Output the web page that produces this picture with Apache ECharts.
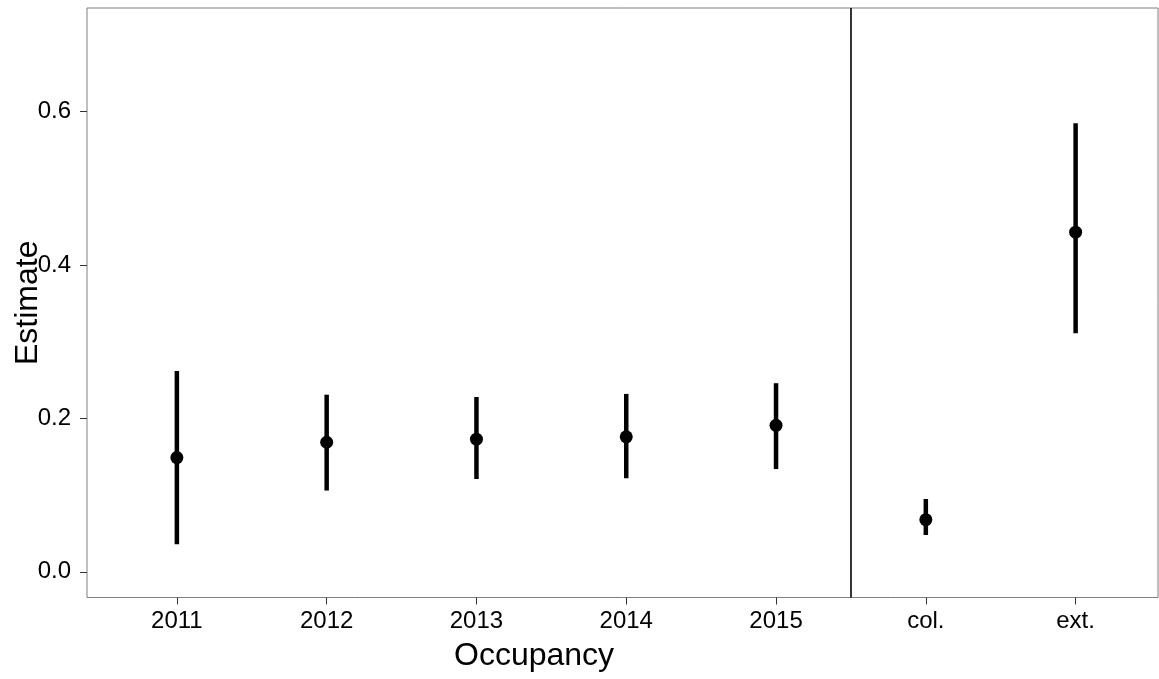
<!DOCTYPE html>
<html>
<head>
<meta charset="utf-8">
<script src="https://cdn.jsdelivr.net/npm/echarts@6/dist/echarts.min.js"></script>
<style>
html,body{margin:0;padding:0;background:#fff;}
#chart{width:1159px;height:679px;}
</style>
</head>
<body>
<div id="chart"></div>
<script>
var categories = ['2011', '2012', '2013', '2014', '2015', 'col.', 'ext.'];
var estimates = [0.149, 0.169, 0.173, 0.176, 0.191, 0.068, 0.443];
var lower = [0.036, 0.106, 0.121, 0.122, 0.134, 0.048, 0.311];
var upper = [0.262, 0.231, 0.228, 0.232, 0.246, 0.095, 0.585];
var yTicks = [0, 0.2, 0.4, 0.6];
var xPositions = [1, 2, 3, 4, 5, 6, 7];
var dividerAt = 5.5;

var FONT = "'Liberation Sans', Arial, sans-serif";

var pointData = xPositions.map(function (x, i) { return [x, estimates[i]]; });
var barData = xPositions.map(function (x, i) { return [x, lower[i], upper[i]]; });

var chart = echarts.init(document.getElementById('chart'), null, {renderer: 'canvas'});
chart.setOption({
  animation: false,
  backgroundColor: '#ffffff',
  grid: {
    left: 87, right: 1, top: 8, bottom: 81.5,
    containLabel: false, outerBoundsMode: 'none',
    show: true, borderColor: '#7f7f7f', borderWidth: 1, backgroundColor: 'transparent'
  },
  graphic: [{
    type: 'text',
    left: 454, top: 640,
    style: {text: 'Occupancy', font: '32px ' + FONT, fill: '#000'}
  }],
  xAxis: {
    type: 'value', min: 0.4, max: 7.55,
    splitLine: {show: false},
    axisLine: {show: false, onZero: false},
    axisTick: {show: true, length: 7, customValues: xPositions, lineStyle: {color: '#333', width: 1}},
    axisLabel: {
      customValues: xPositions, margin: 12,
      fontFamily: FONT, fontSize: 24, color: '#000',
      formatter: function (v) { return categories[Math.round(v) - 1] || ''; }
    }
  },
  yAxis: {
    type: 'value', min: -0.0335, max: 0.7353,
    name: 'Estimate', nameLocation: 'middle', nameRotate: 90, nameGap: 43,
    nameMoveOverlap: false,
    nameTextStyle: {fontFamily: FONT, fontSize: 32, color: '#000'},
    splitLine: {show: false},
    axisLine: {show: false, onZero: false},
    axisTick: {show: true, length: 7, customValues: yTicks, lineStyle: {color: '#333', width: 1}},
    axisLabel: {
      customValues: yTicks, margin: 16,
      fontFamily: FONT, fontSize: 24, color: '#000',
      formatter: function (v) { return v.toFixed(1); }
    }
  },
  series: [
    {
      type: 'custom',
      data: barData,
      renderItem: function (params, api) {
        var p1 = api.coord([api.value(0), api.value(1)]);
        var p2 = api.coord([api.value(0), api.value(2)]);
        return {
          type: 'line',
          shape: {x1: p1[0], y1: p1[1], x2: p2[0], y2: p2[1]},
          style: {stroke: '#000', lineWidth: 4.5}
        };
      },
      markLine: {
        silent: true, symbol: ['none', 'none'],
        label: {show: false},
        lineStyle: {color: '#000', width: 1.6, type: 'solid'},
        data: [{xAxis: dividerAt}]
      },
      z: 2
    },
    {
      type: 'scatter',
      data: pointData,
      symbol: 'circle', symbolSize: 13,
      itemStyle: {color: '#000', opacity: 1},
      z: 3
    }
  ]
});
</script>
</body>
</html>
